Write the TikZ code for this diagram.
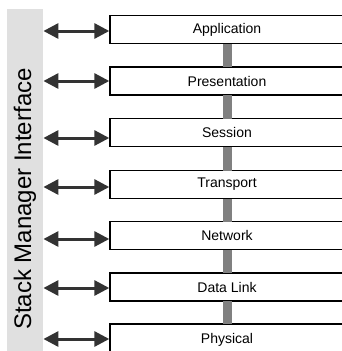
\documentclass[tikz,border=0pt]{standalone}
\usepackage{fontspec}
\setmainfont{Liberation Sans}
\usetikzlibrary{arrows.meta}
\definecolor{bandgray}{HTML}{E0E0E0}
\definecolor{bargray}{HTML}{808080}
\definecolor{arrgray}{HTML}{333333}
\begin{document}
\begin{tikzpicture}[x=1pt,y=-1pt,
  layer/.style={draw=black,line width=1.4pt,fill=white,minimum width=234pt,minimum height=28pt,inner sep=0pt,font=\fontsize{14}{16}\selectfont},
  arr/.style={arrgray,line width=3pt,{Triangle[length=15pt,width=15pt]}-{Triangle[length=15pt,width=15pt]}},
  bar/.style={fill=bargray,draw=none}]
\useasboundingbox (0,0) rectangle (342,351);
\clip (0,0) rectangle (342,351);
\node[fill=bandgray,draw=none,minimum width=36pt,minimum height=342pt,inner sep=0pt,anchor=north west] (band) at (7,9) {};
\node[rotate=90,font=\fontsize{24}{28}\selectfont] (side) at (25,199) {Stack Manager Interface};
% layers
\node[layer] (app) at (227,29.5) {Application};
\node[layer] (pres) at (227,81) {Presentation};
\node[layer] (sess) at (227,132.5) {Session};
\node[layer] (trans) at (227,184.5) {Transport};
\node[layer] (net) at (227,235.5) {Network};
\node[layer] (dl) at (227,287) {Data Link};
\node[layer,minimum height=32pt] (phys) at (227,340) {Physical};
% vertical bars
\foreach \a/\b in {app/pres,pres/sess,sess/trans,trans/net,net/dl,dl/phys}{
  \fill[bargray] ([xshift=-4.5pt,yshift=0.7pt]\a.south) rectangle ([xshift=4.5pt,yshift=-0.7pt]\b.north);
}
% arrows
\draw[arr] ([yshift=-1.5pt]app.west -| band.east) -- ([yshift=-1.5pt]app.west);
\draw[arr] ([yshift=0pt]pres.west -| band.east) -- ([yshift=0pt]pres.west);
\draw[arr] ([yshift=-5.5pt]sess.west -| band.east) -- ([yshift=-5.5pt]sess.west);
\draw[arr] ([yshift=-2.5pt]trans.west -| band.east) -- ([yshift=-2.5pt]trans.west);
\draw[arr] ([yshift=-3.5pt]net.west -| band.east) -- ([yshift=-3.5pt]net.west);
\draw[arr] ([yshift=-1pt]dl.west -| band.east) -- ([yshift=-1pt]dl.west);
\draw[arr] ([yshift=1pt]phys.west -| band.east) -- ([yshift=1pt]phys.west);
\end{tikzpicture}
\end{document}
